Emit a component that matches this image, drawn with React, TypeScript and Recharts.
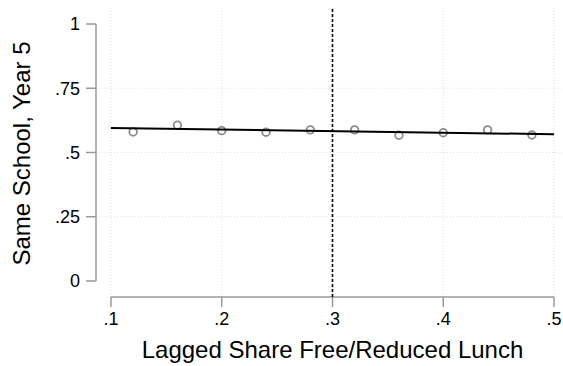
import React from 'react';
import {
  ScatterChart,
  Scatter,
  XAxis,
  YAxis,
  CartesianGrid,
  ReferenceLine,
} from 'recharts';

// binned means
const binX = [0.12, 0.16, 0.2, 0.24, 0.28, 0.32, 0.36, 0.4, 0.44, 0.48];
const binY = [0.58, 0.606, 0.585, 0.579, 0.588, 0.588, 0.567, 0.577, 0.588, 0.568];

// linear fit
const fitX = [0.1, 0.5];
const fitY = [0.595, 0.571];

const xTicks = [0.1, 0.2, 0.3, 0.4, 0.5];
const yTicks = [0, 0.25, 0.5, 0.75, 1];
const yGrid = [0.25, 0.5, 0.75];
const cutoff = 0.3;

// plot region is a bit wider than the tick range (axes offset like Stata)
const xMin = 0.0865;
const xMax = 0.5081;
const yMin = -0.0623;
const yMax = 1.0623;

const points = binX.map((x, i) => ({ x, y: binY[i] }));
const fit = fitX.map((x, i) => ({ x, y: fitY[i] }));

const fmt = (v: number) => String(v).replace(/^0\./, '.');

const axisColor = '#999';
const font = '"Liberation Sans", Arial, sans-serif';

const App: React.FC = () => {
  return (
    <div style={{ position: 'absolute', left: 0, top: 0, background: '#fff' }}>
      <ScatterChart
        width={563}
        height={366}
        margin={{ top: 8, right: 0, left: 0, bottom: 0 }}
        style={{ fontFamily: font }}
      >
        <CartesianGrid
          stroke="#dedede"
          strokeDasharray="1 2"
          horizontalValues={yGrid}
          verticalValues={xTicks}
        />
        <XAxis
          type="number"
          dataKey="x"
          domain={[xMin, xMax]}
          ticks={xTicks}
          tickFormatter={fmt}
          height={69}
          axisLine={false}
          tickLine={{ stroke: axisColor, strokeWidth: 1.5 }}
          tickSize={10}
          tickMargin={5}
          tick={{ fill: '#000', fontSize: 18 }}
          label={{
            content: () => (
              <text x={332.5} y={358} textAnchor="middle" fontSize={24} fill="#000">
                Lagged Share Free/Reduced Lunch
              </text>
            ),
          }}
        />
        <YAxis
          type="number"
          dataKey="y"
          domain={[yMin, yMax]}
          ticks={yTicks}
          tickFormatter={fmt}
          width={96}
          axisLine={false}
          tickLine={{ stroke: axisColor, strokeWidth: 1.5 }}
          tickSize={10}
          tickMargin={6}
          tick={{ fill: '#000', fontSize: 18 }}
          label={{
            content: () => (
              <text
                x={30}
                y={153.5}
                textAnchor="middle"
                fontSize={24}
                fill="#000"
                transform="rotate(-90 30 153.5)"
              >
                Same School, Year 5
              </text>
            ),
          }}
        />
        <ReferenceLine
          segment={[{ x: xMin, y: 0 }, { x: xMin, y: 1 }]}
          stroke={axisColor}
          strokeWidth={1.5}
          ifOverflow="visible"
        />
        <ReferenceLine
          segment={[{ x: 0.1, y: yMin }, { x: 0.5, y: yMin }]}
          stroke={axisColor}
          strokeWidth={1.5}
          ifOverflow="visible"
        />
        <ReferenceLine x={cutoff} stroke="#000" strokeWidth={1.6} strokeDasharray="3 2" />
        <Scatter
          data={points}
          isAnimationActive={false}
          shape={(p: any) => (
            <circle cx={p.cx} cy={p.cy} r={3.8} fill="none" stroke="#8c8c8c" strokeWidth={1.8} />
          )}
        />
        <Scatter
          data={fit}
          isAnimationActive={false}
          line={{ stroke: '#000', strokeWidth: 2 }}
          shape={() => <g />}
        />
      </ScatterChart>
    </div>
  );
};

export default App;
